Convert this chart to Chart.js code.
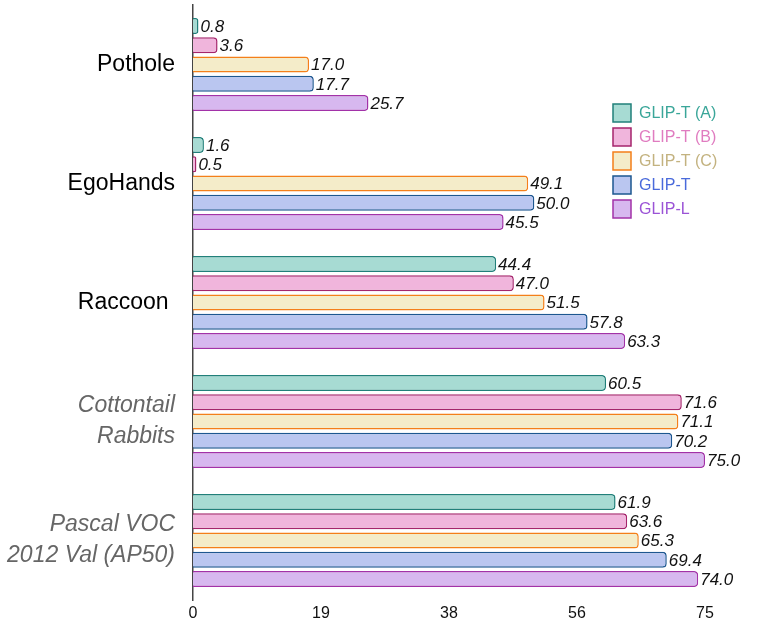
<!DOCTYPE html>
<html>
<head>
<meta charset="utf-8">
<script src="https://cdn.jsdelivr.net/npm/chart.js@4"></script>
<style>
  body { margin: 0; background: #fff; }
  #wrap { width: 761px; height: 634px; }
</style>
</head>
<body>
<div id="wrap"><canvas id="chart"></canvas></div>
<script>
// categories (top to bottom)
const categories = ['Pothole', 'EgoHands', 'Raccoon ', ['Cottontail', 'Rabbits'], ['Pascal VOC', '2012 Val (AP50)']];
const italicCats = [3, 4];

const seriesNames = ['GLIP-T (A)', 'GLIP-T (B)', 'GLIP-T (C)', 'GLIP-T', 'GLIP-L'];
const glipTA = [0.8, 1.6, 44.4, 60.5, 61.9];
const glipTB = [3.6, 0.5, 47.0, 71.6, 63.6];
const glipTC = [17.0, 49.1, 51.5, 71.1, 65.3];
const glipT  = [17.7, 50.0, 57.8, 70.2, 69.4];
const glipL  = [25.7, 45.5, 63.3, 75.0, 74.0];

const xTicks = [0, 18.75, 37.5, 56.25, 75];

const fills   = ['#a7dbd3', '#f0b5dc', '#f4ecc9', '#bac6f0', '#d7b8ef'];
const borders = ['#21807a', '#a5256c', '#f47f1a', '#1d5790', '#a232a8'];
const legendText = ['#3aa699', '#e07cc0', '#c3b27f', '#4a6adb', '#9b53d6'];

const FONT = '"Liberation Sans", Arial, Helvetica, sans-serif';

// value labels at the end of each bar
const valueLabels = {
  id: 'valueLabels',
  afterDatasetsDraw(chart) {
    const ctx = chart.ctx;
    ctx.save();
    ctx.font = 'italic 17px ' + FONT;
    ctx.fillStyle = '#111';
    ctx.textBaseline = 'middle';
    ctx.textAlign = 'left';
    chart.data.datasets.forEach((ds, i) => {
      chart.getDatasetMeta(i).data.forEach((bar, j) => {
        ctx.fillText(ds.data[j].toFixed(1), bar.x + 2, bar.y + 1);
      });
    });
    ctx.restore();
  }
};

// legend floating inside the plot, top right
const floatLegend = {
  id: 'floatLegend',
  afterDraw(chart) {
    const ctx = chart.ctx;
    ctx.save();
    ctx.font = '16px ' + FONT;
    ctx.textBaseline = 'middle';
    chart.data.datasets.forEach((ds, i) => {
      const y = 104 + i * 24;
      ctx.fillStyle = ds.backgroundColor;
      ctx.strokeStyle = ds.borderColor;
      ctx.lineWidth = 1.5;
      ctx.fillRect(613, y, 18, 18);
      ctx.strokeRect(613, y, 18, 18);
      ctx.fillStyle = legendText[i];
      ctx.fillText(ds.label, 639, y + 10);
    });
    ctx.restore();
  }
};

const seriesData = [glipTA, glipTB, glipTC, glipT, glipL];

new Chart(document.getElementById('chart'), {
  type: 'bar',
  data: {
    labels: categories,
    datasets: seriesData.map((d, i) => ({
      label: seriesNames[i],
      data: d,
      backgroundColor: fills[i],
      borderColor: borders[i],
      borderWidth: 1.5,
      borderRadius: 4,
      borderSkipped: 'start',
      categoryPercentage: 0.81,
      barPercentage: 0.83
    }))
  },
  options: {
    indexAxis: 'y',
    responsive: true,
    maintainAspectRatio: false,
    animation: false,
    layout: { padding: { top: 5, right: 56, left: 0, bottom: 0 } },
    plugins: {
      legend: { display: false },
      tooltip: { enabled: false }
    },
    scales: {
      x: {
        min: 0,
        max: 75,
        afterBuildTicks(scale) {
          scale.ticks = xTicks.map(v => ({ value: v }));
        },
        afterFit(scale) { scale.height = 34; },
        grid: { display: false, drawTicks: false },
        border: { display: false },
        ticks: {
          padding: 4,
          color: '#111',
          font: { family: FONT, size: 16 },
          callback: v => Math.round(v)
        }
      },
      y: {
        afterFit(scale) {
          scale.width = 193;
          scale.paddingTop = 0;
          scale.paddingBottom = 0;
        },
        grid: { display: false },
        border: { display: true, color: '#444', width: 1.5 },
        ticks: {
          padding: 10,
          color: c => italicCats.includes(c.index) ? '#666' : '#000',
          font: c => ({
            family: FONT,
            size: 23,
            style: italicCats.includes(c.index) ? 'italic' : 'normal',
            lineHeight: 1.35
          })
        }
      }
    }
  },
  plugins: [valueLabels, floatLegend]
});
</script>
</body>
</html>
